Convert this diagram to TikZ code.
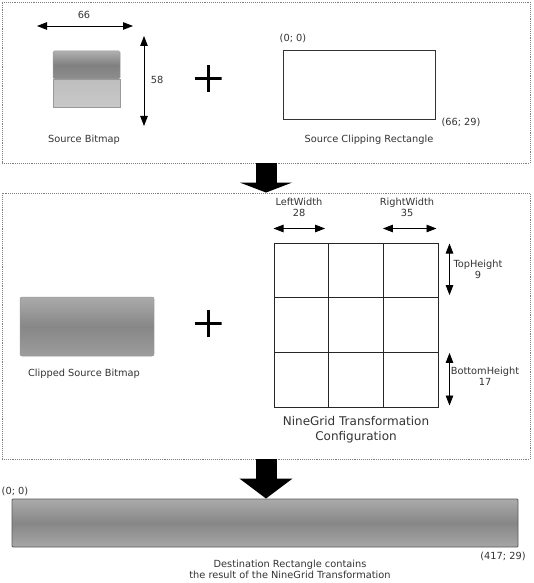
\documentclass[tikz,border=0pt]{standalone}
\usepackage{fontspec}
\setmainfont{DejaVu Sans}
\usetikzlibrary{matrix,arrows.meta,positioning}

\definecolor{bmdark}{HTML}{8E8E8E}
\definecolor{bmlight}{HTML}{C8C8C8}
\definecolor{bmmid}{HTML}{9C9C9C}

\begin{document}
\begin{tikzpicture}[x=1pt,y=-1pt,
		panel/.style={draw=black!50, densely dotted, line width=0.9pt, inner sep=0pt},
		lbl/.style={text=black!80, font=\fontsize{9.8}{11}\selectfont, align=center, inner sep=0pt},
		dim/.style={{Triangle[length=10pt,width=7.5pt]}-{Triangle[length=10pt,width=7.5pt]}, line width=0.9pt},
		fat/.style={-{Triangle[length=#1,width=52pt]}, line width=21pt},
		plus/.style={minimum size=27pt, inner sep=0pt, path picture={\draw[line width=3pt] (path picture bounding box.north) -- (path picture bounding box.south) (path picture bounding box.west) -- (path picture bounding box.east);}},
		bmp/.style={inner sep=0pt, draw=black!40, line width=0.5pt}
	]
	\useasboundingbox (0,0) rectangle (533,583);
	\node[panel, minimum width=528pt, minimum height=161pt] (top) at (266,82.5) {};
	\node[panel, minimum width=528pt, minimum height=266pt] (mid) at (266,326) {};

	\node[bmp, minimum width=67pt, minimum height=28pt, top color=bmmid!80!white, bottom color=bmdark, middle color=bmdark!90!black, rounded corners=1.5pt] (srctop) at (86.5,65) {};
	\node[bmp, minimum width=67pt, minimum height=28pt, top color=bmlight!95!black, bottom color=bmlight, below=0pt of srctop] (srcbot) {};
	\node[lbl] (srclbl) at (84,140) {Source Bitmap};
	\coordinate (wl) at (37,26);
	\coordinate (wr) at (133,26);
	\coordinate (ht) at (144,36);
	\coordinate (hb) at (144,126);
	\path[dim]
		(wl) edge (wr)
		(ht) edge (hb);
	\node[lbl] (w66) at (84,15) {66};
	\node[lbl] (h58) at (157,80) {58};
	\node[plus] (plusA) at (208,79) {};

	\node[draw=black!80, line width=0.9pt, minimum width=152pt, minimum height=69pt, inner sep=0pt] (clip) at (359,84.5) {};
	\node[lbl] (clipA) at (293,38) {(0; 0)};
	\node[lbl] (clipB) at (461,122) {(66; 29)};
	\node[lbl] (cliplbl) at (369,140) {Source Clipping Rectangle};

	\draw[fat=10pt] (top.south) -- (mid.north);

	\node[bmp, minimum width=134pt, minimum height=59pt, top color=bmmid!85!white, bottom color=bmmid, middle color=bmdark!95!black, rounded corners=2pt] (clipped) at (87,326.5) {};
	\node[lbl] (clippedlbl) at (84,374) {Clipped Source Bitmap};
	\node[plus] (plusB) at (208,323) {};

	\matrix (grid) [matrix of nodes, nodes in empty cells, column sep=-0.9pt, row sep=-0.9pt,
		nodes={draw=black!85, line width=0.9pt, minimum width=54.7pt, minimum height=54.7pt, inner sep=0pt}] at (356,325)
	{
		& & \\
		& & \\
		& & \\
	};
	\path[dim]
		([yshift=14pt]grid-1-1.north west) edge ([yshift=14pt,xshift=-4pt]grid-1-1.north east)
		([yshift=14pt]grid-1-3.north west) edge ([yshift=14pt,xshift=-2pt]grid-1-3.north east)
		([xshift=11pt,yshift=-1pt]grid-1-3.north east) edge ([xshift=11pt,yshift=3pt]grid-1-3.south east)
		([xshift=11pt,yshift=-1pt]grid-3-3.north east) edge ([xshift=11pt,yshift=2pt]grid-3-3.south east);
	\node[lbl] (lwlbl) at (299,207.5) {LeftWidth\\28};
	\node[lbl] (rwlbl) at (407,207.5) {RightWidth\\35};
	\node[lbl] (thlbl) at (478,269) {TopHeight\\9};
	\node[lbl] (bhlbl) at (485,376.5) {BottomHeight\\17};
	\node[lbl, font=\fontsize{12}{15}\selectfont] (gridlbl) at (356,430) {NineGrid Transformation\\Configuration};

	\node[draw=black!65, line width=0.9pt, minimum width=506pt, minimum height=48pt, inner sep=0pt, top color=bmmid!85!white, bottom color=bmmid!90!white, middle color=bmdark!95!black, rounded corners=1pt] (dest) at (265,523) {};
	\draw[fat=20pt] (mid.south) -- (mid.south |- dest.north);
	\node[lbl] (destA) at (15,491) {(0; 0)};
	\node[lbl] (destB) at (503,556) {(417; 29)};
	\node[lbl] (destlbl) at (290,569.5) {Destination Rectangle contains\\the result of the NineGrid Transformation};
\end{tikzpicture}
\end{document}
